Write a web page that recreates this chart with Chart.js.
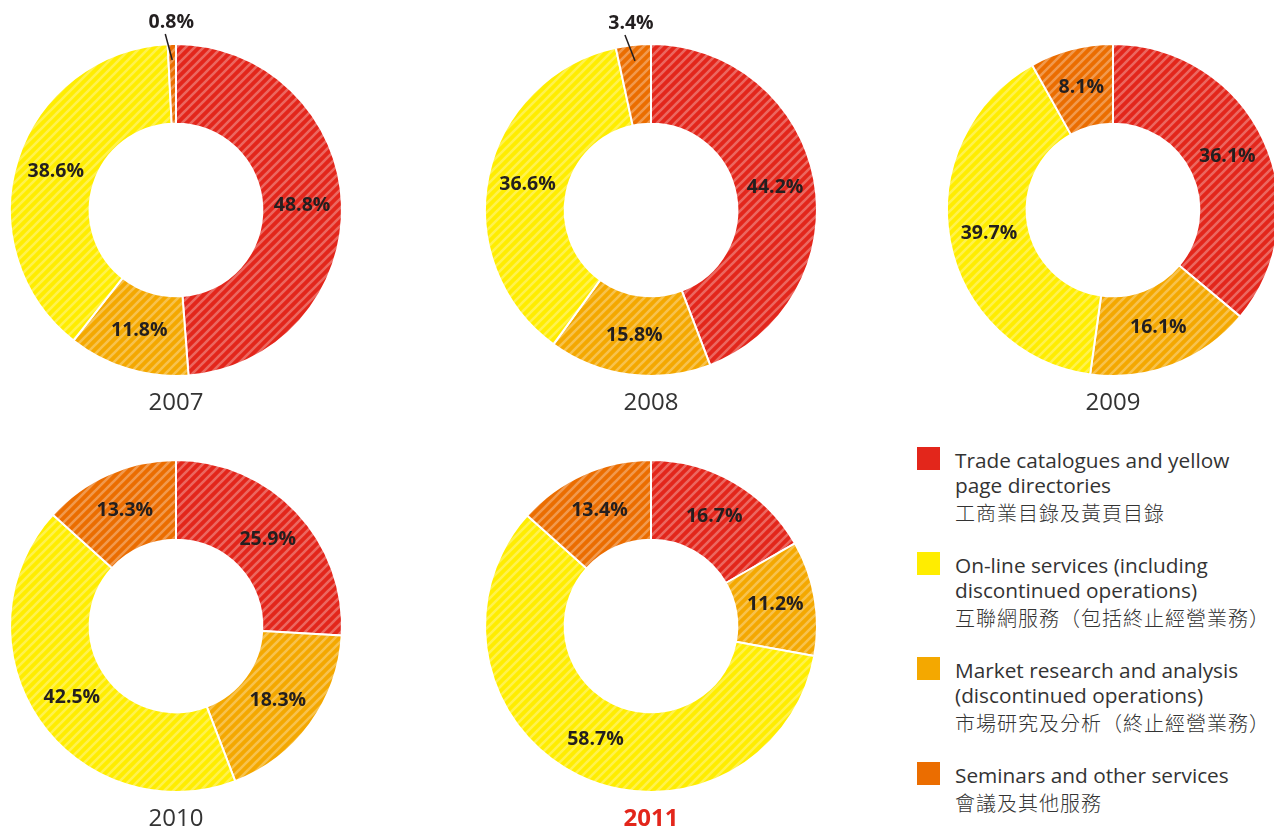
<!DOCTYPE html>
<html>
<head>
<meta charset="utf-8">
<script src="https://cdn.jsdelivr.net/npm/chart.js@4"></script>
<style>
  html, body { margin: 0; padding: 0; background: #fff; overflow: hidden; }
  body { width: 1274px; height: 826px; position: relative; font-family: "Open Sans", "Noto Sans", sans-serif; color: #333; }
  .box { position: absolute; width: 414px; height: 414px; }
  .year { position: absolute; width: 200px; text-align: center; font-size: 24px; line-height: 30px; color: #333; }
  .year.current { color: #e3261b; font-weight: bold; }
  #legend { position: absolute; left: 917px; top: 449px; }
  .item { position: relative; padding-left: 38px; height: 107px; }
  .swatch { position: absolute; left: 0; top: 0; width: 23px; height: 23px; }
  .en { font-size: 20.8px; line-height: 27px; margin-top: -2px; }
  .zh { font-size: 20px; line-height: 27px; letter-spacing: 1px; font-family: "Noto Sans CJK TC", "Noto Sans", sans-serif; font-weight: 300; }
</style>
</head>
<body>
<div id="legend"></div>
<script>
document.addEventListener("DOMContentLoaded", function() {
    const years = ['2007', '2008', '2009', '2010', '2011'];

    // ring order (clockwise from top): trade, market, online, seminars
    const trade    = [48.8, 44.2, 36.1, 25.9, 16.7];
    const market   = [11.8, 15.8, 16.1, 18.3, 11.2];
    const online   = [38.6, 36.6, 39.7, 42.5, 58.7];
    const seminars = [0.8, 3.4, 8.1, 13.3, 13.4];

    const legendEn = [
        ['Trade catalogues and yellow', 'page directories'],
        ['On-line services (including', 'discontinued operations)'],
        ['Market research and analysis', '(discontinued operations)'],
        ['Seminars and other services']
    ];
    const legendZh = [
        '工商業目錄及黃頁目錄',
        '互聯網服務（包括終止經營業務）',
        '市場研究及分析（終止經營業務）',
        '會議及其他服務'
    ];

    const red = '#e3261b', yellow = '#ffed00', amber = '#f4a800', orange = '#eb6d00';
    const legendColors = [red, yellow, amber, orange];
    const ringColors = [red, amber, yellow, orange];

    const centers = [[176, 210], [651, 210], [1113, 210], [176, 626], [651, 626]];
    const pad = 40;

    // diagonal light stripes like the printed version
    function hatch(color) {
        const s = 9;
        const c = document.createElement('canvas');
        c.width = c.height = s;
        const g = c.getContext('2d');
        g.fillStyle = color;
        g.fillRect(0, 0, s, s);
        g.strokeStyle = 'rgba(255,255,255,0.3)';
        g.lineWidth = 2.6;
        g.beginPath();
        g.moveTo(0, s); g.lineTo(s, 0);
        g.moveTo(-1, 1); g.lineTo(1, -1);
        g.moveTo(s - 1, s + 1); g.lineTo(s + 1, s - 1);
        g.stroke();
        return g.createPattern(c, 'repeat');
    }

    const pctLabels = {
        id: 'pctLabels',
        afterDatasetsDraw(chart) {
            const ctx = chart.ctx;
            const meta = chart.getDatasetMeta(0);
            const values = chart.data.datasets[0].data;
            ctx.save();
            ctx.font = 'bold 19.5px "Open Sans", "Noto Sans", sans-serif';
            ctx.fillStyle = '#231f20';
            ctx.strokeStyle = '#231f20';
            ctx.textAlign = 'center';
            ctx.textBaseline = 'middle';
            meta.data.forEach((arc, i) => {
                const p = arc.getProps(['x', 'y', 'startAngle', 'endAngle', 'innerRadius', 'outerRadius'], true);
                const mid = (p.startAngle + p.endAngle) / 2;
                const text = values[i].toFixed(1) + '%';
                if (values[i] < 5) {
                    const lx = p.x + Math.cos(mid) * (p.outerRadius + 22);
                    const ly = p.y + Math.sin(mid) * (p.outerRadius + 22);
                    const ex = p.x + Math.cos(mid) * (p.outerRadius - 16);
                    const ey = p.y + Math.sin(mid) * (p.outerRadius - 16);
                    ctx.fillText(text, lx, ly);
                    ctx.lineWidth = 1.5;
                    ctx.beginPath();
                    ctx.moveTo(lx - 6, ly + 12);
                    ctx.lineTo(ex, ey);
                    ctx.stroke();
                } else {
                    const r = (p.innerRadius + p.outerRadius) / 2;
                    ctx.fillText(text, p.x + Math.cos(mid) * r, p.y + Math.sin(mid) * r);
                }
            });
            ctx.restore();
        }
    };

    const fills = ringColors.map(hatch);

    years.forEach((year, k) => {
        const [cx, cy] = centers[k];
        const box = document.createElement('div');
        box.className = 'box';
        box.style.left = (cx - 167 - pad) + 'px';
        box.style.top = (cy - 167 - pad) + 'px';
        const canvas = document.createElement('canvas');
        box.appendChild(canvas);
        document.body.appendChild(box);

        const label = document.createElement('div');
        label.className = 'year' + (k === years.length - 1 ? ' current' : '');
        label.textContent = year;
        label.style.left = (cx - 100) + 'px';
        label.style.top = (cy + 176) + 'px';
        document.body.appendChild(label);

        new Chart(canvas.getContext('2d'), {
            type: 'doughnut',
            data: {
                labels: ['Trade', 'Market', 'Online', 'Seminars'],
                datasets: [{
                    data: [trade[k], market[k], online[k], seminars[k]],
                    backgroundColor: fills,
                    borderColor: '#fff',
                    borderWidth: 2
                }]
            },
            options: {
                responsive: true,
                maintainAspectRatio: false,
                animation: false,
                events: [],
                cutout: '52%',
                layout: { padding: pad },
                plugins: { legend: { display: false }, tooltip: { enabled: false } }
            },
            plugins: [pctLabels]
        });
    });

    const legend = document.getElementById('legend');
    legendEn.forEach((lines, i) => {
        const item = document.createElement('div');
        item.className = 'item';
        item.innerHTML = '<div class="swatch" style="background:' + legendColors[i] + '"></div>' +
            lines.map(t => '<div class="en">' + t + '</div>').join('') +
            '<div class="zh">' + legendZh[i] + '</div>';
        legend.appendChild(item);
    });
});
</script>
</body>
</html>
